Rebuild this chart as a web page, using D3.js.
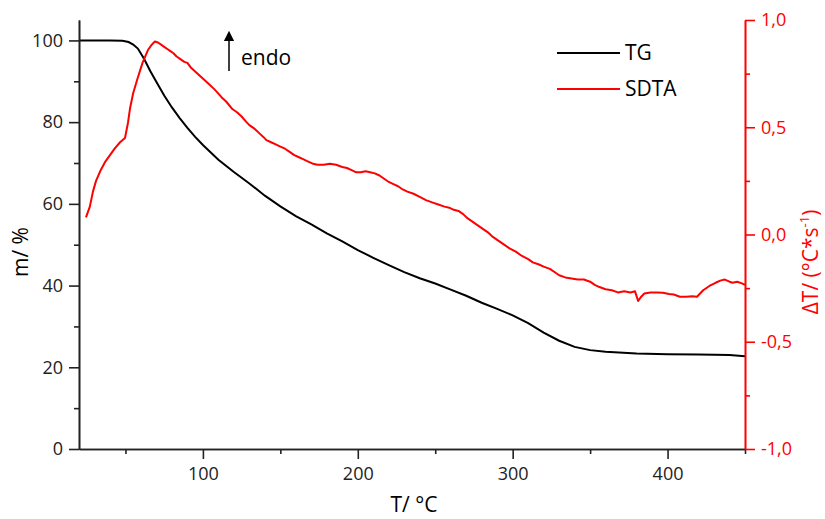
<!DOCTYPE html>
<html>
<head>
<meta charset="utf-8">
<script src="https://cdn.jsdelivr.net/npm/d3@7"></script>
<style>
  body { margin: 0; background: #fff; }
  svg { font-family: "Open Sans", sans-serif; }
</style>
</head>
<body>
<svg width="825" height="519"></svg>
<script>
'use strict'

// TG curve (mass %)
var tgT = [20, 30, 40, 48, 52, 55, 58, 62, 66, 70, 75, 80, 85, 90, 95, 100, 110, 120, 130, 140,
  150, 160, 170, 180, 190, 200, 210, 220, 230, 240, 250, 260, 270, 280, 290, 300, 310, 320, 330,
  340, 350, 360, 380, 400, 420, 440, 450];
var tgM = [100, 100, 100, 99.9, 99.6, 99, 98, 95.5, 92.5, 89.8, 86.5, 83.6, 81, 78.6, 76.4, 74.4, 70.8, 67.8, 65, 62,
  59.4, 57, 55, 52.8, 50.8, 48.7, 46.8, 45, 43.3, 41.8, 40.5, 39, 37.5, 35.8, 34.3, 32.7, 30.8, 28.5, 26.5,
  25, 24.2, 23.8, 23.4, 23.2, 23.1, 23, 22.7];

// SDTA curve (°C/s)
var sdtaT = [24.5, 27, 29, 31, 34, 37, 40, 43, 46.5, 49.7, 51.6, 53, 55, 57.5, 61, 64.5, 67, 69, 71, 73,
  75, 77, 79, 81, 83, 85, 88, 90, 92, 95, 98, 101, 104, 107, 109, 112, 115, 119, 122, 125,
  128, 130, 133, 136, 139, 141, 144, 147, 150, 153, 156, 159, 162, 165, 168, 171, 174, 178, 182, 186,
  190, 193, 196, 199, 202, 205, 208, 211, 214, 217, 220, 223, 226, 229, 232, 236, 240, 244, 248, 252,
  256, 259, 262, 265, 268, 271, 274, 277, 280, 284, 287, 290, 294, 298, 302, 306, 310, 313, 317, 320,
  324, 327, 330, 334, 338, 342, 346, 350, 353, 356, 360, 364, 368, 372, 376, 379, 381, 383, 385, 389,
  393, 397, 401, 404, 408, 412, 416, 419, 421, 423, 427, 431, 434, 437, 440, 442, 445, 448, 450];
var sdtaV = [0.08, 0.13, 0.2, 0.25, 0.30, 0.34, 0.37, 0.40, 0.43, 0.45, 0.52, 0.59, 0.66, 0.72, 0.80, 0.86, 0.885, 0.90, 0.895, 0.885,
  0.875, 0.865, 0.855, 0.845, 0.83, 0.82, 0.805, 0.80, 0.78, 0.76, 0.74, 0.72, 0.70, 0.68, 0.665, 0.64, 0.62, 0.585, 0.57, 0.55,
  0.525, 0.51, 0.495, 0.475, 0.455, 0.44, 0.43, 0.42, 0.41, 0.40, 0.385, 0.37, 0.36, 0.35, 0.34, 0.33, 0.325, 0.325, 0.33, 0.325,
  0.315, 0.31, 0.30, 0.29, 0.29, 0.295, 0.29, 0.285, 0.275, 0.26, 0.245, 0.235, 0.225, 0.21, 0.20, 0.19, 0.175, 0.16, 0.15, 0.14,
  0.13, 0.125, 0.115, 0.11, 0.095, 0.075, 0.06, 0.045, 0.03, 0.01, -0.01, -0.025, -0.045, -0.065, -0.08, -0.10, -0.115, -0.13, -0.14, -0.15,
  -0.16, -0.175, -0.19, -0.20, -0.205, -0.21, -0.21, -0.22, -0.235, -0.245, -0.255, -0.26, -0.27, -0.265, -0.27, -0.265, -0.31, -0.29, -0.275, -0.27,
  -0.27, -0.272, -0.277, -0.28, -0.29, -0.29, -0.288, -0.29, -0.275, -0.26, -0.24, -0.225, -0.215, -0.21, -0.22, -0.225, -0.22, -0.228, -0.235];

var xTicks = [100, 200, 300, 400];
var xMinor = [50, 150, 250, 350, 450];
var mTicks = [0, 20, 40, 60, 80, 100];
var mMinor = [10, 30, 50, 70, 90];
var dTicks = [-1, -0.5, 0, 0.5, 1];
var dMinor = [-0.75, -0.25, 0.25, 0.75];

var svg = d3.select("svg"),
  margin = { top: 20, right: 80, bottom: 70, left: 79 },
  width = +svg.attr("width") - margin.left - margin.right,
  height = +svg.attr("height") - margin.top - margin.bottom;

var x = d3.scaleLinear().domain([20, 450]).range([0, width]),
  y = d3.scaleLinear().domain([0, 105]).range([height, 0]),
  y2 = d3.scaleLinear().domain([-1, 1]).range([height, 0]);

var g = svg.append("g")
  .attr("transform", "translate(" + margin.left + "," + margin.top + ")");

var comma = function(v) { return v.toFixed(1).replace(".", ","); };

function styleAxis(sel, color) {
  sel.selectAll("path, line").attr("stroke", color).attr("stroke-width", 1.6);
  sel.selectAll("text").attr("fill", color).style("font-size", "18px")
    .style("font-family", "Open Sans, sans-serif");
}

// curves
var tgLine = d3.line()
  .x(function(d, i) { return x(tgT[i]); })
  .y(function(d) { return y(d); });
var sdtaLine = d3.line()
  .x(function(d, i) { return x(sdtaT[i]); })
  .y(function(d) { return y2(d); });

g.append("path").datum(tgM)
  .attr("fill", "none").attr("stroke", "#000").attr("stroke-width", 2)
  .attr("d", tgLine);
g.append("path").datum(sdtaV)
  .attr("fill", "none").attr("stroke", "#ff0000").attr("stroke-width", 2)
  .attr("stroke-linejoin", "round")
  .attr("d", sdtaLine);

// axes
g.append("g").attr("transform", "translate(0," + height + ")")
  .call(d3.axisBottom(x).tickValues(xMinor).tickSize(5).tickSizeOuter(0).tickFormat(""))
  .call(styleAxis, "#222");
g.append("g").attr("transform", "translate(0," + height + ")")
  .call(d3.axisBottom(x).tickValues(xTicks).tickSize(10).tickSizeOuter(0).tickPadding(8))
  .call(styleAxis, "#222");

g.append("g")
  .call(d3.axisLeft(y).tickValues(mMinor).tickSize(5).tickSizeOuter(0).tickFormat(""))
  .call(styleAxis, "#222");
g.append("g")
  .call(d3.axisLeft(y).tickValues(mTicks).tickSize(10).tickSizeOuter(0).tickPadding(6))
  .call(styleAxis, "#222");

g.append("g").attr("transform", "translate(" + width + ",0)")
  .call(d3.axisRight(y2).tickValues(dMinor).tickSize(5).tickSizeOuter(0).tickFormat(""))
  .call(styleAxis, "#ff0000");
g.append("g").attr("transform", "translate(" + width + ",0)")
  .call(d3.axisRight(y2).tickValues(dTicks).tickSize(10).tickSizeOuter(0).tickPadding(6).tickFormat(comma))
  .call(styleAxis, "#ff0000");

// axis titles
svg.append("text")
  .attr("x", 414).attr("y", 512)
  .attr("text-anchor", "middle")
  .style("font-size", "21px")
  .text("T/ °C");

svg.append("text")
  .attr("transform", "translate(28,252) rotate(-90)")
  .attr("text-anchor", "middle")
  .style("font-size", "21px")
  .text("m/ %");

var rt = svg.append("text")
  .attr("transform", "translate(818,262) rotate(-90)")
  .attr("text-anchor", "middle")
  .attr("fill", "#ff0000")
  .style("font-size", "21px");
rt.append("tspan").text("ΔT/ (°C*s");
rt.append("tspan").attr("dy", -9).style("font-size", "13px").text("-1");
rt.append("tspan").attr("dy", 9).text(")");

// endo marker
svg.append("defs").append("marker")
  .attr("id", "arrow")
  .attr("viewBox", "0 0 10 10")
  .attr("refX", 5).attr("refY", 5)
  .attr("markerWidth", 7).attr("markerHeight", 7)
  .attr("orient", "auto")
  .append("path").attr("d", "M0,0 L10,5 L0,10 z").attr("fill", "#000");

svg.append("line")
  .attr("x1", 229).attr("x2", 229).attr("y1", 71).attr("y2", 36)
  .attr("stroke", "#000").attr("stroke-width", 1.5)
  .attr("marker-end", "url(#arrow)");
svg.append("text")
  .attr("x", 241).attr("y", 65)
  .style("font-size", "21px")
  .text("endo");

// legend
var legend = [["TG", "#000"], ["SDTA", "#ff0000"]];
var items = svg.selectAll(".legend")
  .data(legend)
  .enter().append("g")
  .attr("class", "legend")
  .attr("transform", function(d, i) { return "translate(557," + (53 + i * 36) + ")"; });
items.append("line")
  .attr("x1", 0).attr("x2", 63)
  .attr("stroke", function(d) { return d[1]; })
  .attr("stroke-width", 2);
items.append("text")
  .attr("x", 68).attr("y", 7)
  .style("font-size", "21px")
  .text(function(d) { return d[0]; });
</script>
</body>
</html>
